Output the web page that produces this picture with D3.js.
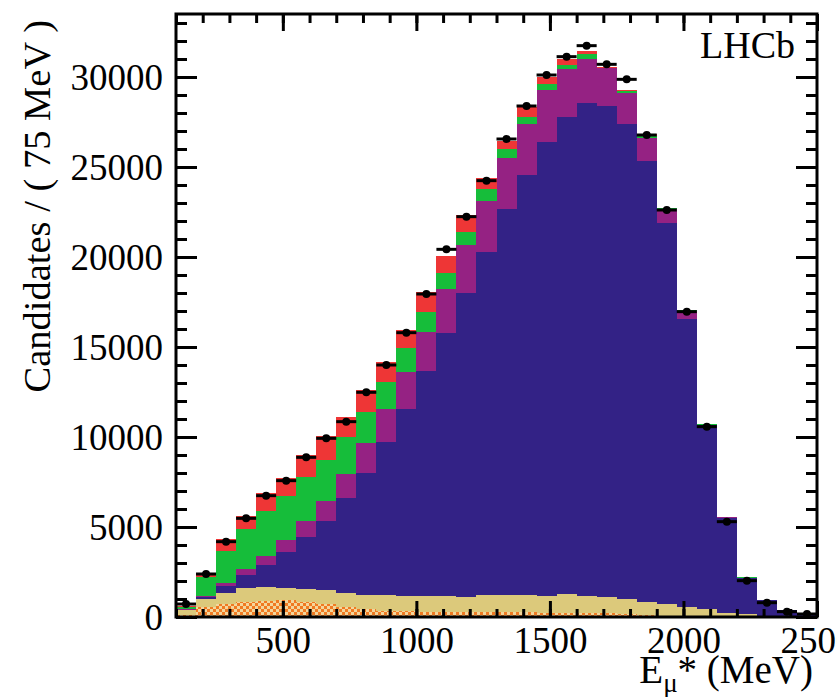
<!DOCTYPE html>
<html>
<head>
<meta charset="utf-8">
<script src="https://cdn.jsdelivr.net/npm/d3@7"></script>
<style>
  html, body { margin: 0; padding: 0; background: #ffffff; }
  svg { display: block; }
  text { font-family: "Liberation Serif", "DejaVu Serif", serif; fill: #000; }
</style>
</head>
<body>
<svg id="chart" width="837" height="697"></svg>
<script>
// ---- Data (75 MeV bins from 100 to 2500 MeV) ----
const binStart = 100;
const binWidth = 75;
const nBins = 32;
const binLow = d3.range(nBins).map(i => binStart + i * binWidth);

// Stacked components (bottom to top)
const combinatorial = [100, 574, 722, 852, 907, 944, 852, 722, 574, 426, 352, 320, 300, 300, 290, 280, 270, 260, 250, 240, 220, 200, 150, 100, 50, 0, 0, 0, 0, 0, 0, 0];
const misid = [280, 426, 593, 778, 741, 667, 685, 778, 778, 796, 870, 865, 870, 850, 840, 942, 952, 962, 935, 1019, 947, 893, 850, 752, 672, 574, 426, 241, 167, 80, 30, 10];
const signal = [20, 130, 407, 722, 1241, 2019, 2926, 3833, 5241, 6797, 8519, 10352, 12515, 14646, 16889, 19074, 21426, 23334, 25221, 26500, 27407, 27296, 26370, 24500, 21185, 15963, 10222, 5259, 1983, 840, 350, 225];
const bkgA = [20, 55, 185, 296, 500, 648, 889, 1111, 1351, 1629, 1796, 2093, 2167, 2408, 2648, 2834, 2871, 2833, 2872, 2667, 2426, 2092, 1723, 1241, 778, 463, 42, 40, 30, 12, 4, 3];
const bkgB = [160, 1019, 1760, 2222, 2500, 2444, 2407, 2278, 2073, 1759, 1537, 1296, 1111, 889, 740, 629, 481, 407, 315, 241, 259, 29, 107, 107, 15, 40, 20, 20, 15, 8, 3, 2];
const bkgC = [20, 259, 648, 741, 981, 982, 1241, 1334, 1113, 1204, 1111, 1018, 1074, 963, 926, 611, 463, 519, 388, 314, 185, 27, 78, 115, 4, 16, 12, 14, 9, 4, 2, 1];

// Data points
const dataCounts = [720, 2389, 4185, 5481, 6741, 7574, 8870, 9926, 10852, 12483, 14000, 15796, 17944, 20426, 22241, 24241, 26556, 28389, 30111, 31130, 31741, 30704, 29870, 26778, 22611, 16963, 10574, 5296, 2019, 796, 296, 167];

// Axis ticks
const xMajorTicks = [500, 1000, 1500, 2000, 2500];
const xMinorTicks = d3.range(100, 2501, 100);
const yMajorTicks = [0, 5000, 10000, 15000, 20000, 25000, 30000];
const yMinorTicks = d3.range(0, 33501, 1000);

// ---- Layout ----
const svg = d3.select("#chart");
const L = 176, R = 817, T = 14, B = 617;
const x = d3.scaleLinear().domain([100, 2500]).range([L, R]);
const y = d3.scaleLinear().domain([0, 33500]).range([B, T]);

// checkered pattern for the combinatorial component
const defs = svg.append("defs");
const pat = defs.append("pattern").attr("id", "checker")
  .attr("patternUnits", "userSpaceOnUse").attr("width", 6).attr("height", 6);
pat.append("rect").attr("width", 6).attr("height", 6).attr("fill", "#f3d69c");
pat.append("rect").attr("x", 0).attr("y", 0).attr("width", 3).attr("height", 3).attr("fill", "#f07a22");
pat.append("rect").attr("x", 3).attr("y", 3).attr("width", 3).attr("height", 3).attr("fill", "#f07a22");

const seriesDefs = [
  { key: "comb", values: combinatorial, fill: "url(#checker)" },
  { key: "misid", values: misid, fill: "#dcc97b" },
  { key: "signal", values: signal, fill: "#332286" },
  { key: "bkgA", values: bkgA, fill: "#952283" },
  { key: "bkgB", values: bkgB, fill: "#16bd3a" },
  { key: "bkgC", values: bkgC, fill: "#ee3636" }
];

const table = binLow.map((lo, i) => {
  const row = { lo };
  seriesDefs.forEach(s => row[s.key] = s.values[i]);
  return row;
});
const stack = d3.stack().keys(seriesDefs.map(s => s.key));
const stacked = stack(table);

const gBars = svg.append("g");
stacked.forEach((layer, li) => {
  gBars.append("g").attr("fill", seriesDefs[li].fill)
    .selectAll("rect").data(layer).enter().append("rect")
    .attr("shape-rendering", "crispEdges")
    .attr("x", d => x(d.data.lo))
    .attr("width", d => x(d.data.lo + binWidth) - x(d.data.lo))
    .attr("y", d => y(d[1]))
    .attr("height", d => Math.max(0, y(d[0]) - y(d[1])));
});

// Data points with error bars
const gData = svg.append("g");
dataCounts.forEach((v, i) => {
  const lo = binLow[i], c = lo + binWidth / 2;
  const err = Math.sqrt(v);
  gData.append("line")
    .attr("x1", x(lo)).attr("x2", x(lo + binWidth))
    .attr("y1", y(v)).attr("y2", y(v))
    .attr("stroke", "#000").attr("stroke-width", 3);
  gData.append("line")
    .attr("x1", x(c)).attr("x2", x(c))
    .attr("y1", y(v - err)).attr("y2", y(v + err))
    .attr("stroke", "#000").attr("stroke-width", 3);
  gData.append("circle").attr("cx", x(c)).attr("cy", y(v)).attr("r", 4).attr("fill", "#000");
});

// ---- Axes ----
const fontSize = 37;
function styleAxis(g) {
  g.select(".domain").remove();
  g.selectAll(".tick line").attr("stroke", "#000").attr("stroke-width", 3);
}
// bottom
const gxMinor = svg.append("g").attr("transform", `translate(0,${B})`)
  .call(d3.axisBottom(x).tickValues(xMinorTicks).tickSize(-8).tickFormat(""));
styleAxis(gxMinor);
const gx = svg.append("g").attr("transform", `translate(0,${B})`)
  .call(d3.axisBottom(x).tickValues(xMajorTicks).tickSize(-16).tickFormat(d3.format("d")));
styleAxis(gx);
gx.selectAll(".tick text").attr("y", 36).attr("dy", 0)
  .style("font-size", fontSize + "px").style("font-family", '"Liberation Serif", serif');
// top
const gtMinor = svg.append("g").attr("transform", `translate(0,${T})`)
  .call(d3.axisTop(x).tickValues(xMinorTicks).tickSize(-9).tickFormat(""));
styleAxis(gtMinor);
const gt = svg.append("g").attr("transform", `translate(0,${T})`)
  .call(d3.axisTop(x).tickValues(xMajorTicks).tickSize(-17).tickFormat(""));
styleAxis(gt);
// left
const gyMinor = svg.append("g").attr("transform", `translate(${L},0)`)
  .call(d3.axisLeft(y).tickValues(yMinorTicks).tickSize(-11).tickFormat(""));
styleAxis(gyMinor);
const gy = svg.append("g").attr("transform", `translate(${L},0)`)
  .call(d3.axisLeft(y).tickValues(yMajorTicks).tickSize(-21).tickFormat(d3.format("d")));
styleAxis(gy);
gy.selectAll(".tick text").attr("x", -13).attr("dy", "0.34em")
  .style("font-size", fontSize + "px").style("font-family", '"Liberation Serif", serif');
// right
const grMinor = svg.append("g").attr("transform", `translate(${R},0)`)
  .call(d3.axisRight(y).tickValues(yMinorTicks).tickSize(-11).tickFormat(""));
styleAxis(grMinor);
const gr = svg.append("g").attr("transform", `translate(${R},0)`)
  .call(d3.axisRight(y).tickValues(yMajorTicks).tickSize(-21).tickFormat(""));
styleAxis(gr);

// frame
svg.append("rect").attr("x", L).attr("y", T).attr("width", R - L).attr("height", B - T)
  .attr("fill", "none").attr("stroke", "#000").attr("stroke-width", 3);

// ---- Titles ----
svg.append("text")
  .attr("transform", "translate(50,20) rotate(-90)")
  .attr("text-anchor", "end")
  .style("font-size", "38.5px")
  .text("Candidates / ( 75 MeV )");

const xt = svg.append("text").attr("x", 813).attr("y", 683)
  .attr("text-anchor", "end").style("font-size", "39px");
xt.append("tspan").text("E");
xt.append("tspan").attr("dy", 9).style("font-size", "27px").text("μ");
xt.append("tspan").attr("dy", -9).text("* (MeV)");

svg.append("text").attr("x", 700).attr("y", 58)
  .style("font-size", "38px").text("LHCb");
</script>
</body>
</html>
